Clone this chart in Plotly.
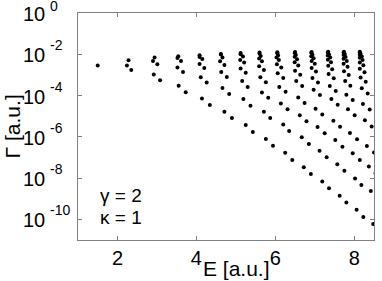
import plotly.graph_objects as go

# resonance widths, one group per energy cluster (first value = top point, then left/right pairs going down)
# E in a.u., widths stored as log10(Gamma)
E_01 = [1.50]
G_01 = [-2.55]
E_02 = [2.28, 2.24, 2.35]
G_02 = [-2.29, -2.55, -2.76]
E_03 = [2.94, 2.90, 3.01, 2.92, 3.08]
G_03 = [-2.16, -2.32, -2.48, -2.98, -3.26]
E_04 = [3.54, 3.52, 3.61, 3.52, 3.66, 3.55, 3.73]
G_04 = [-2.10, -2.18, -2.32, -2.64, -2.86, -3.53, -3.84]
E_05 = [4.08, 4.08, 4.15, 4.08, 4.20, 4.11, 4.26, 4.14, 4.34]
G_05 = [-2.05, -2.13, -2.23, -2.47, -2.66, -3.11, -3.37, -4.14, -4.46]
E_06 = [4.62, 4.62, 4.66, 4.60, 4.71, 4.63, 4.77, 4.66, 4.83, 4.71, 4.90]
G_06 = [-1.99, -2.01, -2.16, -2.34, -2.52, -2.86, -3.10, -3.63, -3.92, -4.79, -5.09]
E_07 = [5.12, 5.12, 5.18, 5.11, 5.21, 5.12, 5.25, 5.16, 5.30, 5.19, 5.37, 5.25, 5.43]
G_07 = [-1.94, -2.00, -2.11, -2.28, -2.40, -2.69, -2.90, -3.30, -3.58, -4.17, -4.50, -5.43, -5.77]
E_08 = [5.60, 5.60, 5.63, 5.59, 5.66, 5.59, 5.71, 5.62, 5.76, 5.66, 5.82, 5.71, 5.87, 5.76, 5.94]
G_08 = [-1.92, -1.97, -2.08, -2.21, -2.34, -2.58, -2.76, -3.11, -3.35, -3.85, -4.11, -4.79, -5.09, -6.11, -6.43]
E_09 = [6.05, 6.05, 6.07, 6.03, 6.09, 6.04, 6.15, 6.06, 6.20, 6.10, 6.26, 6.14, 6.31, 6.20, 6.35, 6.25, 6.43]
G_09 = [-1.90, -1.95, -2.06, -2.16, -2.28, -2.48, -2.64, -2.92, -3.15, -3.58, -3.82, -4.38, -4.66, -5.40, -5.72,
        -6.77, -7.12]
E_10 = [6.50, 6.49, 6.52, 6.49, 6.55, 6.49, 6.58, 6.50, 6.63, 6.53, 6.68, 6.58, 6.74, 6.62, 6.79, 6.67, 6.85,
        6.72, 6.90]
G_10 = [-1.89, -1.94, -2.04, -2.12, -2.24, -2.39, -2.54, -2.80, -2.99, -3.30, -3.54, -4.09, -4.36, -4.96, -5.25,
        -6.02, -6.35, -7.48, -7.80]
E_11 = [6.92, 6.91, 6.94, 6.91, 6.97, 6.92, 7.00, 6.92, 7.03, 6.94, 7.08, 6.97, 7.13, 7.02, 7.19, 7.07, 7.25,
        7.12, 7.30, 7.19, 7.36]
G_11 = [-1.89, -1.93, -2.02, -2.09, -2.19, -2.32, -2.46, -2.66, -2.83, -3.15, -3.37, -3.72, -3.97, -4.64, -4.92,
        -5.53, -5.83, -6.67, -6.99, -8.16, -8.49]
E_12 = [7.34, 7.33, 7.36, 7.33, 7.39, 7.33, 7.41, 7.34, 7.44, 7.35, 7.48, 7.38, 7.53, 7.42, 7.58, 7.47, 7.64,
        7.52, 7.70, 7.57, 7.75, 7.63, 7.80]
G_12 = [-1.88, -1.92, -2.01, -2.06, -2.16, -2.26, -2.39, -2.56, -2.72, -2.96, -3.16, -3.54, -3.78, -4.17, -4.44,
        -5.22, -5.51, -6.16, -6.48, -7.33, -7.65, -8.85, -9.18]
E_13 = [7.74, 7.73, 7.76, 7.73, 7.78, 7.73, 7.81, 7.73, 7.83, 7.74, 7.86, 7.77, 7.90, 7.80, 7.96, 7.84, 8.01,
        7.89, 8.07, 7.96, 8.14, 8.02, 8.18, 8.06, 8.23]
G_13 = [-1.88, -1.91, -1.99, -2.04, -2.13, -2.22, -2.33, -2.46, -2.61, -2.82, -3.01, -3.29, -3.52, -3.96, -4.22,
        -4.67, -4.96, -5.82, -6.12, -6.80, -7.12, -8.02, -8.33, -9.54, -9.89]
E_14 = [8.14, 8.14, 8.16, 8.14, 8.19, 8.14, 8.21, 8.14, 8.23, 8.14, 8.26, 8.16, 8.29, 8.19, 8.34, 8.22, 8.39,
        8.27, 8.44, 8.32, 8.50, 8.37, 8.54, 8.42, 8.59, 8.48, 8.65]
G_14 = [-1.88, -1.91, -1.98, -2.02, -2.11, -2.17, -2.28, -2.40, -2.53, -2.70, -2.87, -3.12, -3.33, -3.65, -3.90,
        -4.41, -4.68, -5.20, -5.50, -6.45, -6.76, -7.44, -7.76, -8.63, -8.96, -10.23, -10.55]

y_ticks = [0, -2, -4, -6, -8, -10]
x_ticks = [2, 4, 6, 8]

E_all = E_01 + E_02 + E_03 + E_04 + E_05 + E_06 + E_07 + E_08 + E_09 + E_10 + E_11 + E_12 + E_13 + E_14
G_all = G_01 + G_02 + G_03 + G_04 + G_05 + G_06 + G_07 + G_08 + G_09 + G_10 + G_11 + G_12 + G_13 + G_14
gamma = [10 ** g for g in G_all]

font = "Liberation Sans, Arial, Helvetica, sans-serif"
axcol = "#808080"

fig = go.Figure(go.Scatter(x=E_all, y=gamma, mode="markers",
                           marker=dict(color="black", size=4, line_width=0),
                           showlegend=False))

fig.update_layout(
    width=382, height=281,
    margin=dict(l=78, r=8, t=13, b=41),
    plot_bgcolor="white", paper_bgcolor="white",
    font=dict(family=font, size=18, color="black"),
    xaxis=dict(range=[1, 8.5], tickvals=x_ticks, ticks="inside", ticklen=4, tickcolor=axcol,
               showline=True, linecolor=axcol, linewidth=1, mirror="ticks",
               showgrid=False, zeroline=False, ticklabelstandoff=0, automargin=False,
               tickfont=dict(size=20)),
    yaxis=dict(type="log", range=[-11, 0], tickvals=[10 ** t for t in y_ticks],
               showticklabels=False,
               ticks="inside", ticklen=4, tickcolor=axcol,
               showline=True, linecolor=axcol, linewidth=1, mirror="ticks",
               showgrid=False, zeroline=False, automargin=False),
)

# MATLAB-style log labels: "10" right-aligned, exponent hanging to the right
for t in y_ticks:
    fig.add_annotation(text="10", xref="paper", yref="y", x=-0.105, y=t, yshift=-1,
                       xanchor="right", yanchor="middle", showarrow=False, font=dict(size=20))
    # the top exponent sits right at the page edge, nudge it down a touch so it stays visible
    fig.add_annotation(text=str(t), xref="paper", yref="y", x=-0.102, y=t, yshift=7 if t == 0 else 9,
                       xanchor="left", yanchor="middle", showarrow=False, font=dict(size=14))

fig.add_annotation(text="E [a.u.]", xref="paper", yref="paper", x=0.536, y=-0.127,
                   xanchor="center", yanchor="middle", showarrow=False, font=dict(size=21))
fig.add_annotation(text="Γ [a.u.]", xref="paper", yref="paper", x=-0.22, y=0.5, textangle=-90,
                   xanchor="center", yanchor="middle", showarrow=False, font=dict(size=21))
fig.add_annotation(text="γ = 2", xref="paper", yref="paper", x=0.068, y=0.195,
                   xanchor="left", yanchor="middle", showarrow=False, font=dict(size=19))
fig.add_annotation(text="κ = 1", xref="paper", yref="paper", x=0.068, y=0.099,
                   xanchor="left", yanchor="middle", showarrow=False, font=dict(size=19))

# drop the browser's default 8px body margin so the figure sits at the window origin
fig.write_html("out.html", config={"displayModeBar": False},
               post_script="document.body.style.margin='0px';")
